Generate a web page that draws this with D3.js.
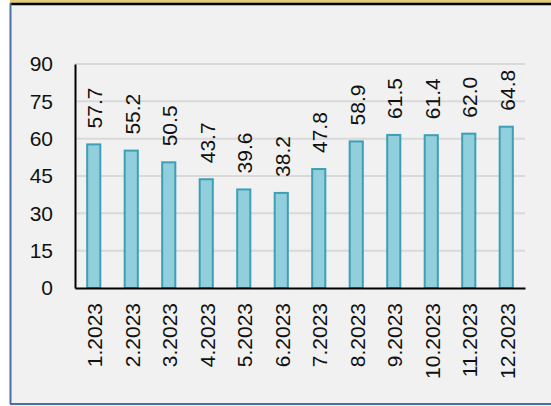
<!DOCTYPE html>
<html>
<head>
<meta charset="utf-8">
<script src="https://cdn.jsdelivr.net/npm/d3@7"></script>
<style>
  body { margin: 0; background: #ffffff; }
  text { font-family: "Liberation Sans", Arial, sans-serif; fill: #111; }
</style>
</head>
<body>
<div id="container"></div>
<script>
// chart data
var months = ["1.2023", "2.2023", "3.2023", "4.2023", "5.2023", "6.2023",
              "7.2023", "8.2023", "9.2023", "10.2023", "11.2023", "12.2023"];
var values = [57.7, 55.2, 50.5, 43.7, 39.6, 38.2, 47.8, 58.9, 61.5, 61.4, 62.0, 64.8];
var yTicks = [0, 15, 30, 45, 60, 75, 90];

var w = 551,
    h = 406;

var svg = d3.select("div#container")
  .append("svg")
  .attr("width", w)
  .attr("height", h);

// frame
svg.append("rect")
  .attr("x", 10).attr("y", 0)
  .attr("width", w - 10).attr("height", h)
  .attr("fill", "#f1f1f1");

svg.append("rect")
  .attr("x", 10).attr("y", 0)
  .attr("width", w - 10).attr("height", 3)
  .attr("fill", "#e2cc79");

svg.append("line")
  .attr("x1", 10).attr("x2", w)
  .attr("y1", 4).attr("y2", 4)
  .attr("stroke", "#000").attr("stroke-width", 2.5);

svg.append("line")
  .attr("x1", 10.5).attr("x2", 10.5)
  .attr("y1", 3).attr("y2", h - 2)
  .attr("stroke", "#4a6fa5").attr("stroke-width", 2);

svg.append("line")
  .attr("x1", 10).attr("x2", w)
  .attr("y1", 404).attr("y2", 404)
  .attr("stroke", "#4a6fa5").attr("stroke-width", 2);

// scales
var x = d3.scaleBand()
  .domain(months)
  .range([75, 525])
  .paddingInner(0.65)
  .paddingOuter(0.325);

var y = d3.scaleLinear()
  .domain([0, 90])
  .range([288, 64]);

// gridlines
svg.append("g")
  .selectAll("line")
  .data(yTicks.filter(function(d) { return d > 0; }))
  .join("line")
  .attr("x1", 75).attr("x2", 525)
  .attr("y1", function(d) { return y(d); })
  .attr("y2", function(d) { return y(d); })
  .attr("stroke", "#d9d9d9")
  .attr("stroke-width", 2);

// bars
svg.append("g")
  .selectAll("rect")
  .data(values)
  .join("rect")
  .attr("x", function(d, i) { return x(months[i]); })
  .attr("y", function(d) { return y(d); })
  .attr("width", x.bandwidth())
  .attr("height", function(d) { return y(0) - y(d); })
  .attr("fill", "#92cfdc")
  .attr("stroke", "#3d9fb6")
  .attr("stroke-width", 2);

// value labels
svg.append("g")
  .selectAll("text")
  .data(values)
  .join("text")
  .attr("transform", function(d, i) {
    return "translate(" + (x(months[i]) + x.bandwidth() / 2 + 1) + "," + (y(d) - 16) + ") rotate(-90)";
  })
  .attr("dy", "0.35em")
  .attr("font-size", 21)
  .attr("text-anchor", "start")
  .text(function(d) { return d3.format(".1f")(d); });

// y axis
var yAxis = svg.append("g")
  .attr("transform", "translate(75,0)")
  .call(d3.axisLeft(y).tickValues(yTicks).tickSize(0).tickPadding(22));
yAxis.select(".domain").attr("stroke", "#000").attr("stroke-width", 2);
yAxis.selectAll("text")
  .attr("font-size", 21)
  .attr("font-family", "Liberation Sans, Arial, sans-serif")
  .attr("fill", "#111");

// x axis
var xAxis = svg.append("g")
  .attr("transform", "translate(0,288)")
  .call(d3.axisBottom(x).tickSize(0).tickPadding(0));
xAxis.select(".domain").attr("stroke", "#000").attr("stroke-width", 2);
xAxis.selectAll("text")
  .attr("font-size", 21)
  .attr("font-family", "Liberation Sans, Arial, sans-serif")
  .attr("fill", "#111")
  .attr("text-anchor", "end")
  .attr("dy", "0.35em")
  .attr("transform", "translate(1,15) rotate(-90)");
</script>
</body>
</html>
